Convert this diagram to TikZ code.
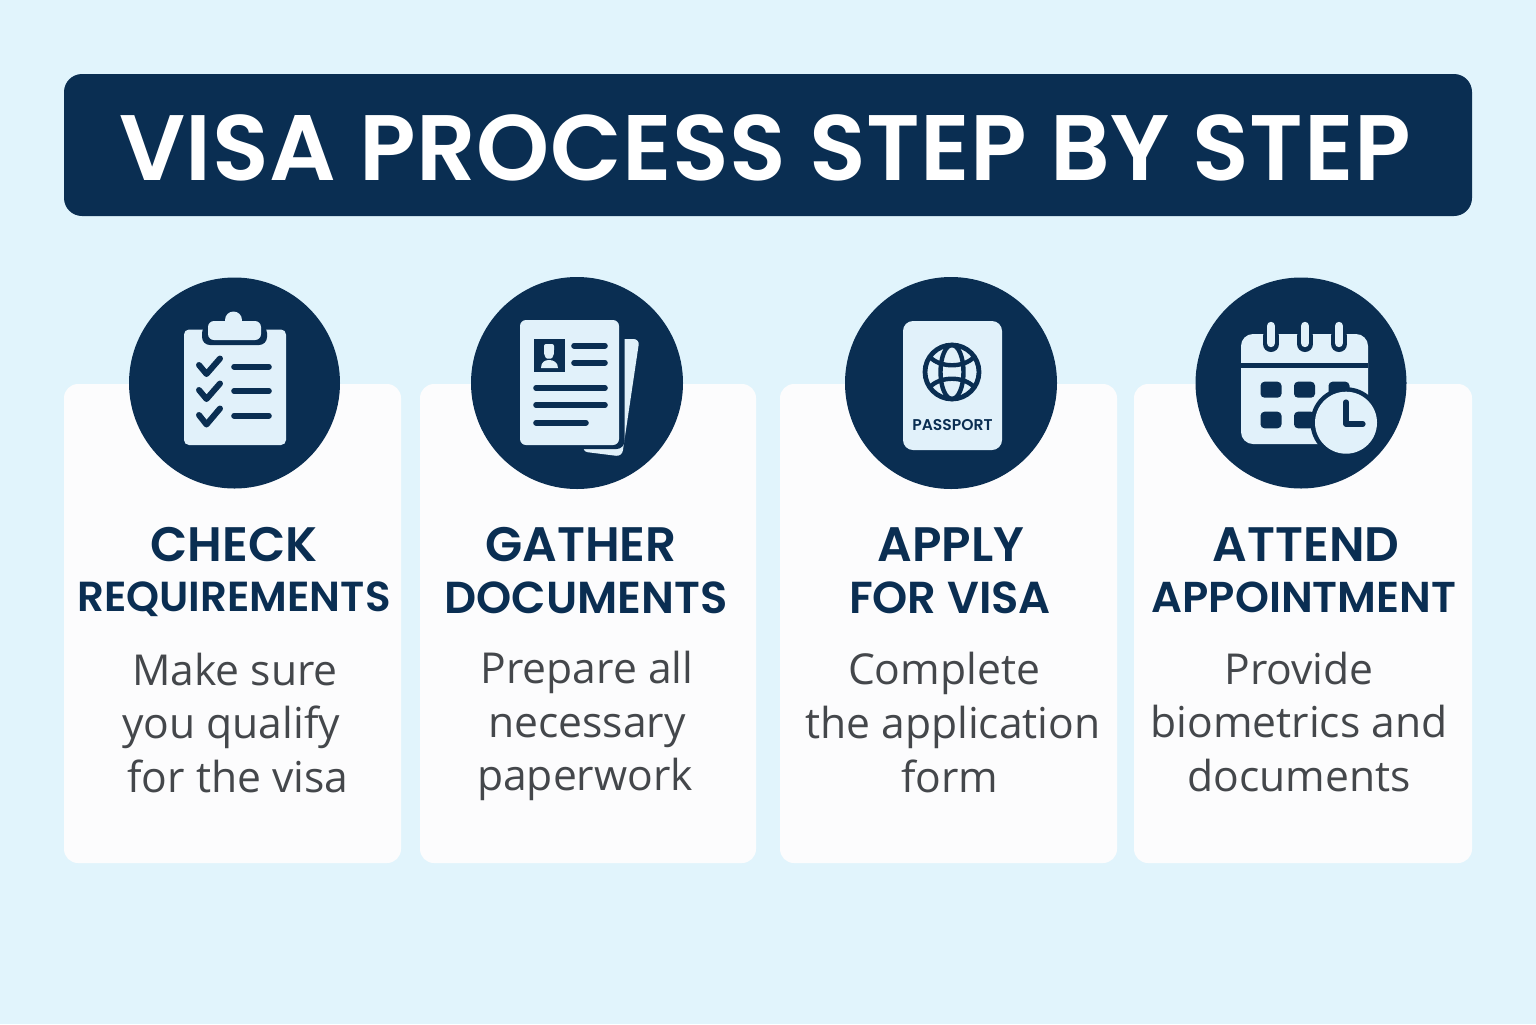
\documentclass[tikz,border=0pt]{standalone}
\usepackage{fontspec}
\setmainfont{Open Sans}
\newfontfamily\headf[UprightFont={* SemiBold}]{Poppins}
\newfontfamily\titlef[UprightFont={* SemiBold},LetterSpace=0.7]{Poppins}
\definecolor{bgc}{HTML}{E1F4FC}
\definecolor{navy}{HTML}{0A2E52}
\definecolor{cardc}{HTML}{FCFCFD}
\definecolor{pale}{HTML}{E1F1FA}
\definecolor{bodyc}{HTML}{44474B}
\tikzset{
 card/.style={fill=cardc,draw=none,rounded corners=7pt},
 disc/.style={fill=navy,draw=none},
 paper/.style={fill=pale,draw=none},
 ink/.style={draw=navy,line width=2.8pt,line cap=round,line join=round},
 chk/.style={draw=navy,line width=3pt,line cap=round,line join=round},
 titletext/.style={text=white,font=\titlef\fontsize{46.5}{50}\selectfont,inner sep=0pt,anchor=base},
 headA/.style={text=navy,font=\headf\fontsize{24.2}{26}\selectfont,inner sep=0pt,anchor=base},
 headB/.style={text=navy,font=\headf\fontsize{21}{24}\selectfont,inner sep=0pt,anchor=base},
 headC/.style={text=navy,font=\headf\fontsize{22.4}{24}\selectfont,inner sep=0pt,anchor=base},
 bodytext/.style={text=bodyc,font=\fontsize{21.3}{24}\selectfont,inner sep=0pt,anchor=base},
}
\begin{document}
\begin{tikzpicture}[x=0.5pt,y=-0.5pt]
\useasboundingbox (0,0) rectangle (1536,1024);
\fill[bgc] (0,0) rectangle (1536,1024);
% banner
\fill[navy,rounded corners=9pt] (64,74) rectangle (1472,216);
\node[titletext] (title) at (765,180) {VISA PROCESS STEP BY STEP};
% cards
\fill[card] (64,384) rectangle (401,863);
\fill[card] (420,384) rectangle (756,863);
\fill[card] (780,384) rectangle (1117,863);
\fill[card] (1134,384) rectangle (1472,863);
% discs
\fill[disc] (234.5,383) circle (105.5);
\fill[disc] (577,383) circle (106);
\fill[disc] (951,383) circle (106);
\fill[disc] (1301,383) circle (105.5);
% --- clipboard
\fill[paper,rounded corners=2.5pt] (184,329.5) rectangle (286,445);
\fill[navy,rounded corners=4pt] (202,325) rectangle (267,345);
\fill[paper] (233.5,320) circle (8.5);
\fill[paper,rounded corners=3pt] (208,321) rectangle (261,340);
\draw[chk] (199,365) -- (206.5,374) -- (220,358.5);
\draw[chk] (199,390) -- (206.5,399) -- (220,383.5);
\draw[chk] (199,415) -- (206.5,424.5) -- (220,408.5);
\draw[ink] (234,366.7) -- (269,366.7);
\draw[ink] (234,391) -- (269,391);
\draw[ink] (234,415.7) -- (269,415.7);
% --- documents
\fill[paper,rounded corners=3pt] (610,339) -- (639.5,339) -- (622,456.5) -- (582,451.5) -- cycle;
\fill[navy,rounded corners=4pt] (515,315) rectangle (624.5,449);
\fill[paper,rounded corners=3pt] (520,320) rectangle (619,445);
\fill[navy] (534,339) rectangle (564.7,372);
\fill[paper,rounded corners=1pt] (544,344) -- (554,344) -- (554,352) .. controls (553.5,357) and (551.5,358.5) .. (549,358.5) .. controls (546.5,358.5) and (544.5,357) .. (544,352) -- cycle;
\fill[paper] (541,368) .. controls (541,362) and (545,360) .. (549,360) .. controls (553,360) and (558,362) .. (558,368) -- cycle;
\draw[ink] (574,345.7) -- (605,345.7);
\draw[ink] (574,362.7) -- (605,362.7);
\draw[ink] (536,388) -- (605,388);
\draw[ink] (536,405) -- (605,405);
\draw[ink] (536,422.7) -- (586,422.7);
% --- passport
\fill[paper,rounded corners=5pt] (903,321) rectangle (1002,450);
\draw[navy,line width=2.4pt] (952,372) circle (27);
\draw[navy,line width=2.2pt] (952,372) ellipse (11.5 and 27);
\draw[navy,line width=2.2pt] (930,357) .. controls (940,368) and (964,368) .. (974,357);
\draw[navy,line width=2.2pt] (930,387) .. controls (940,376) and (964,376) .. (974,387);
\node[text=navy,font=\headf\fontsize{7.8}{10}\selectfont,inner sep=0pt,anchor=base] (pp) at (952.5,430) {PASSPORT};
% --- calendar
\fill[paper,rounded corners=6pt] (1241,334) rectangle (1368,444);
\fill[navy] (1241,362.7) rectangle (1368,368.3);
\foreach \rx in {1271,1305,1339}{
 \draw[navy,line width=8pt,line cap=round] (\rx,336) -- (\rx,344);
 \draw[pale,line width=4.2pt,line cap=round] (\rx,326) -- (\rx,343);
}
\foreach \cx in {1271,1304.5,1339}{
 \fill[navy,rounded corners=2pt] (\cx-10.5,381.7) rectangle (\cx+10.5,397.7);
}
\foreach \cx in {1271,1304.5,1339}{
 \fill[navy,rounded corners=2pt] (\cx-10.5,411.7) rectangle (\cx+10.5,428.3);
}
\fill[navy] (1346,422.7) circle (35.5);
\fill[pale] (1346,422.7) circle (31);
\draw[navy,line width=2.6pt,line cap=round,line join=round] (1346,402) -- (1346,424) -- (1363,424);
% --- headings
\node[headA] (h1a) at (234,561) {CHECK};
\node[headB] (h1b) at (234,611) {REQUIREMENTS};
\node[headA] (h2a) at (581,561) {GATHER};
\node[headC] (h2b) at (586,613) {DOCUMENTS};
\node[headA] (h3a) at (951,561) {APPLY};
\node[headC] (h3b) at (950,613) {FOR VISA};
\node[headA] (h4a) at (1306,561) {ATTEND};
\node[headB,font=\headf\fontsize{21.6}{24}\selectfont] (h4b) at (1304,612) {APPOINTMENT};
% --- body
\node[bodytext] (b1a) at (235,685) {Make sure};
\node[bodytext] (b1b) at (231,738) {you qualify};
\node[bodytext] (b1c) at (238,792) {for the visa};
\node[bodytext] (b2a) at (587,683) {Prepare all};
\node[bodytext] (b2b) at (587,737) {necessary};
\node[bodytext] (b2c) at (585,790) {paperwork};
\node[bodytext] (b3a) at (944,684) {Complete};
\node[bodytext] (b3b) at (953,738) {the application};
\node[bodytext] (b3c) at (950,792) {form};
\node[bodytext] (b4a) at (1299,684) {Provide};
\node[bodytext] (b4b) at (1299,737) {biometrics and};
\node[bodytext] (b4c) at (1299,791) {documents};
\end{tikzpicture}
\end{document}
